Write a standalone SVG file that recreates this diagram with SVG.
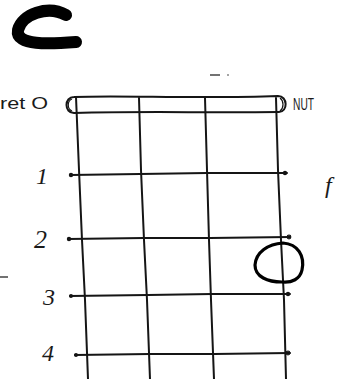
<svg xmlns="http://www.w3.org/2000/svg" width="338" height="379" viewBox="0 0 338 379">
<style>
.ln{fill:none;stroke:#151515;stroke-width:2;stroke-linecap:round;stroke-linejoin:round}
.tk{fill:none;stroke:#151515;stroke-width:1.2}
.hw{font-family:"Liberation Serif",serif;font-style:italic;fill:#1a1a1a}
.lb{font-family:"Liberation Sans",sans-serif;fill:#1a1a1a}
</style>
<rect width="338" height="379" fill="#ffffff"/>
<g id="chord-name">
<path d="M66 15 C48 5 22 14 18 30 C15 46 50 44 76 42" fill="none" stroke="#000" stroke-width="12" stroke-linecap="round"/>
</g>
<g id="top-mark">
<path class="tk" d="M210 75 L220 75"/>
<circle cx="228" cy="75" r="0.8" fill="#333"/>
</g>
<g id="nut">
<path class="ln" d="M74 97 C120 95 200 99 278 96 C288 96 288 112 279 112 C200 113 150 111 74 113 C64 113 64 97 74 97 Z"/>
<path class="tk" d="M72 99 C67 101 67 109 72 111"/>
<path class="tk" d="M280 98 C284 101 284 108 280 111"/>
</g>
<g id="strings">
<path class="ln" d="M76 97 L79 170 L82 240 L85 300 L88 379"/>
<path class="ln" d="M139 98 L141 170 L144 240 L147 300 L150 379"/>
<path class="ln" d="M205 98 L207 170 L209 240 L211 300 L214 379"/>
<path class="ln" d="M276 98 L278 170 L281 240 L284 300 L286 379"/>
</g>
<g id="frets">
<path class="ln" d="M70 175 L140 174 L207 173 L287 173"/>
<path class="ln" d="M68 239 L144 238 L210 238 L290 237"/>
<path class="ln" d="M70 296 L148 295 L212 294 L290 294"/>
<path class="ln" d="M75 355 L150 354 L214 354 L290 353"/>
<circle class="tk" cx="71" cy="175" r="1.6"/>
<circle class="tk" cx="285" cy="173" r="1.6"/>
<circle class="tk" cx="69" cy="239" r="1.6"/>
<circle class="tk" cx="289" cy="237" r="1.8"/>
<circle class="tk" cx="71" cy="296" r="1.4"/>
<circle class="tk" cx="288" cy="294" r="1.6"/>
<circle class="tk" cx="76" cy="355" r="1.4"/>
<circle class="tk" cx="288" cy="353" r="1.8"/>
</g>
<g id="finger">
<path d="M283 243 C298 244 305 256 302 270 C300 279 292 283 282 282 C268 282 255 277 255 265 C256 252 268 244 283 243 Z" fill="none" stroke="#000" stroke-width="3.2"/>
</g>
<g id="labels">
<text class="lb" x="0" y="109" font-size="17" textLength="48" lengthAdjust="spacingAndGlyphs">ret O</text>
<text class="lb" x="293" y="110" font-size="17" textLength="21" lengthAdjust="spacingAndGlyphs">NUT</text>
<text class="hw" x="36" y="184" font-size="24">1</text>
<text class="hw" x="34" y="248" font-size="26">2</text>
<text class="hw" x="43" y="305" font-size="24">3</text>
<text class="hw" x="42" y="361" font-size="24">4</text>
<text class="hw" x="325" y="193" font-size="24">f</text>
<path class="tk" d="M0 277 L8 277"/>
</g>
</svg>
